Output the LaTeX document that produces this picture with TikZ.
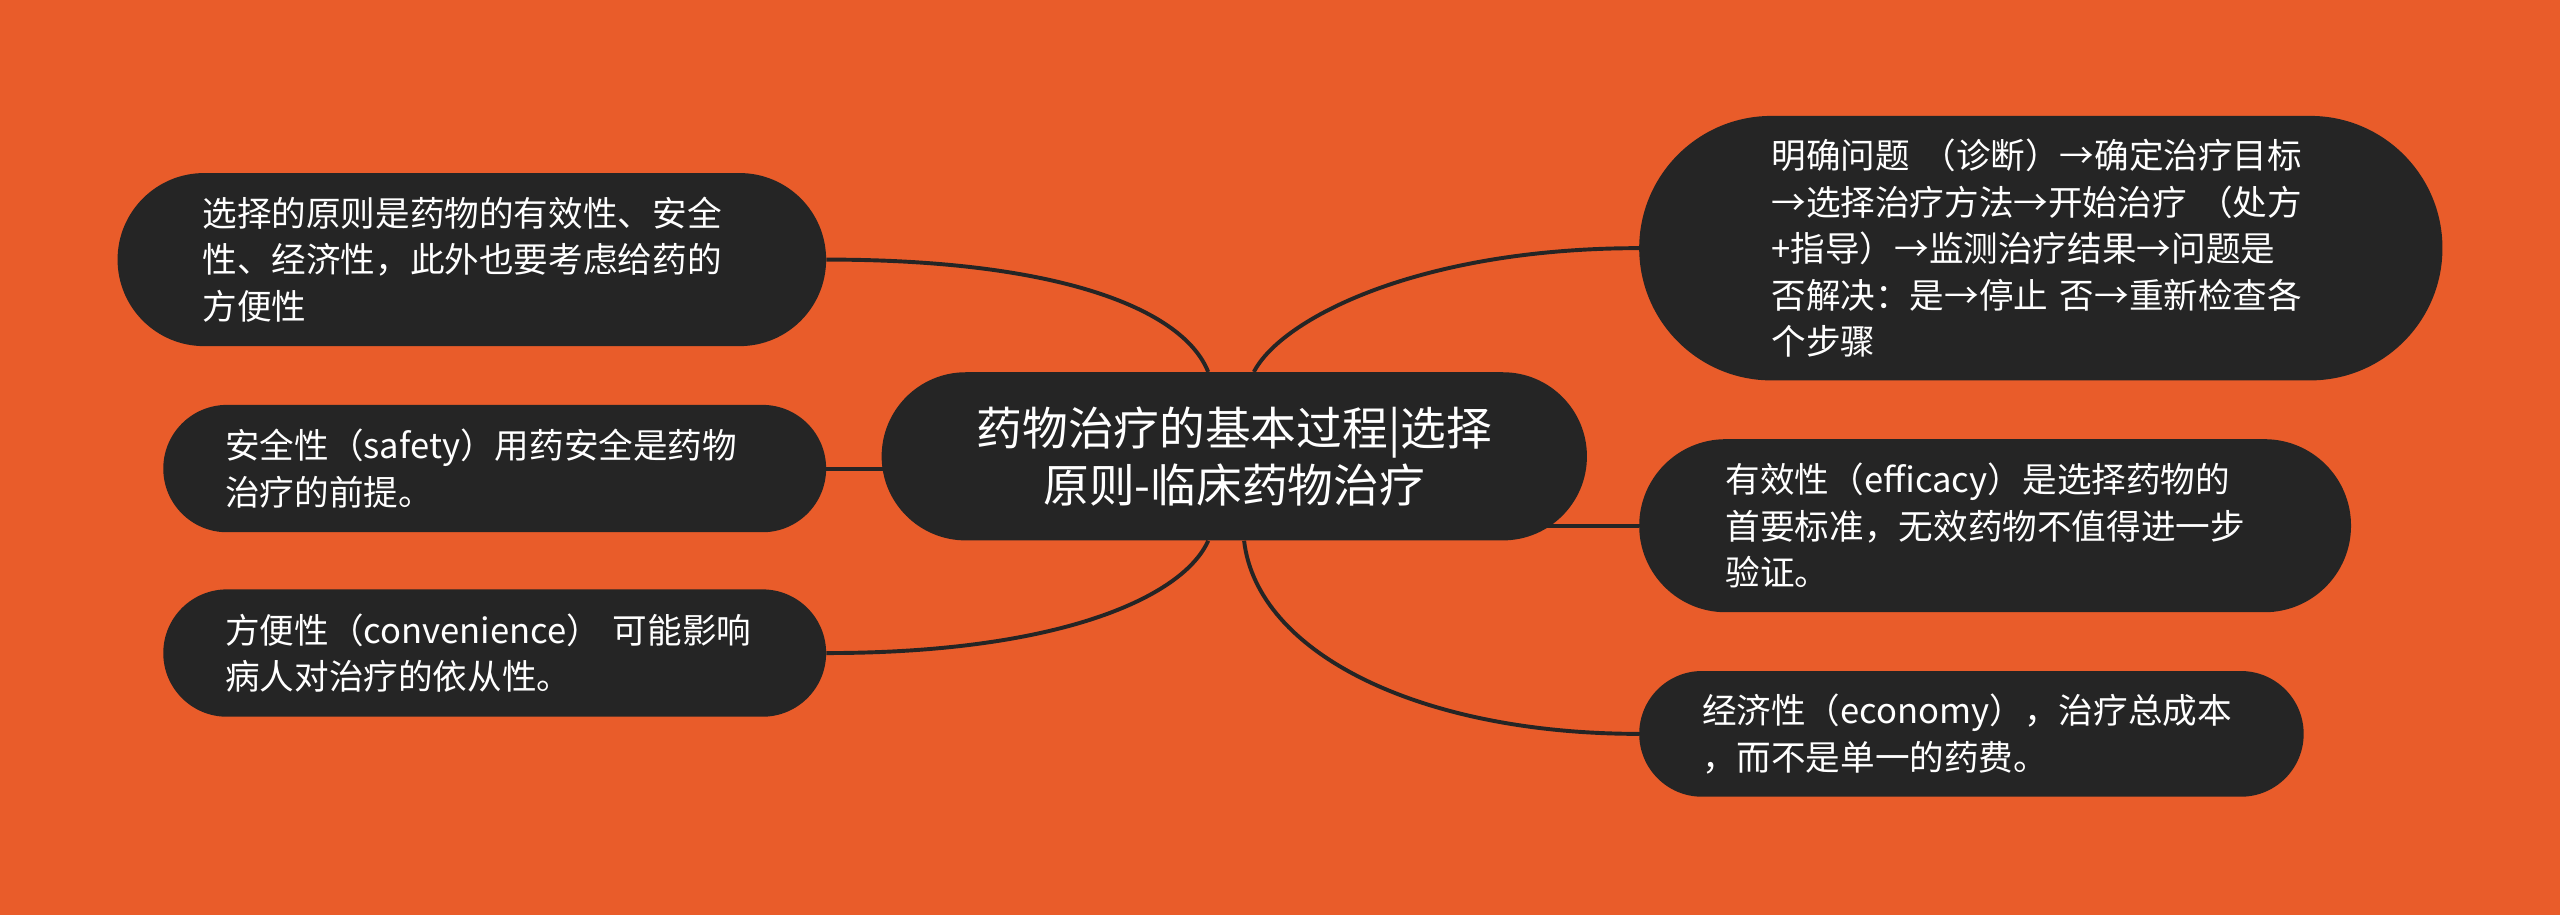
\documentclass[tikz,border=0pt]{standalone}
\usepackage{fontspec}
\newfontfamily\cjk{Noto Sans CJK SC}
\usetikzlibrary{backgrounds}
\definecolor{bgorange}{HTML}{E95C2A}
\definecolor{nodedark}{HTML}{252525}

\begin{document}
\begin{tikzpicture}[x=1pt, y=1pt,
            main node/.style={fill=nodedark, text=white, align=center, inner sep=0pt, minimum width=432pt, minimum height=103pt, rounded corners=51.5pt, font=\cjk\fontsize{28}{35}\selectfont},
            leaf node/.style 2 args={fill=nodedark, text=white, align=left, text width=330pt, inner sep=0pt, minimum width=#1pt, minimum height=#2pt, rounded corners=#2*0.5pt, font=\cjk\fontsize{21.2}{28.5}\selectfont},
            link/.style={draw=nodedark, line width=2.4pt},
            ]
            \useasboundingbox (0,0) rectangle (1568,560);

            \node[main node] (root) at (756,280.5) {药物治疗的基本过程|选择\\原则-临床药物治疗};

            \node[leaf node={434}{106}] (sel) at (289,401) {选择的原则是药物的有效性、安全\\性、经济性，此外也要考虑给药的\\方便性};
            \node[leaf node={406}{78}] (saf) at (303,273) {安全性（safety）用药安全是药物\\治疗的前提。};
            \node[leaf node={406}{78}] (conv) at (303,160) {方便性（convenience） 可能影响\\病人对治疗的依从性。};
            \node[leaf node={492}{162}] (proc) at (1250,408) {明确问题 （诊断）→确定治疗目标\\→选择治疗方法→开始治疗 （处方\\+指导）→监测治疗结果→问题是\\否解决：是→停止 否→重新检查各\\个步骤};
            \node[leaf node={436}{106}] (eff) at (1222,238) {有效性（efficacy）是选择药物的\\首要标准，无效药物不值得进一步\\验证。};
            \node[leaf node={407}{77}] (eco) at (1207.5,110.5) {经济性（economy），治疗总成本\\，而不是单一的药费。};

            \begin{scope}[on background layer]
            \fill[bgorange] (-3,-3) rectangle (1571,563);
            \draw[link] (sel.east) .. controls +(144,0) and +(-15,38) .. ([xshift=-16pt]root.north);
            \draw[link] (saf.east) -- (saf.east -| root.center);
            \draw[link] (conv.east) .. controls +(144,0) and +(-15,-34) .. ([xshift=-16pt]root.south);
            \draw[link] ([xshift=12pt]root.north) .. controls +(17,33) and +(-134,0) .. (proc.west);
            \draw[link] (eff.west) -- (eff.west -| root.center);
            \draw[link] ([xshift=6pt]root.south) .. controls +(8,-69) and +(-134,0) .. (eco.west);
            \end{scope}
\end{tikzpicture}
\end{document}
